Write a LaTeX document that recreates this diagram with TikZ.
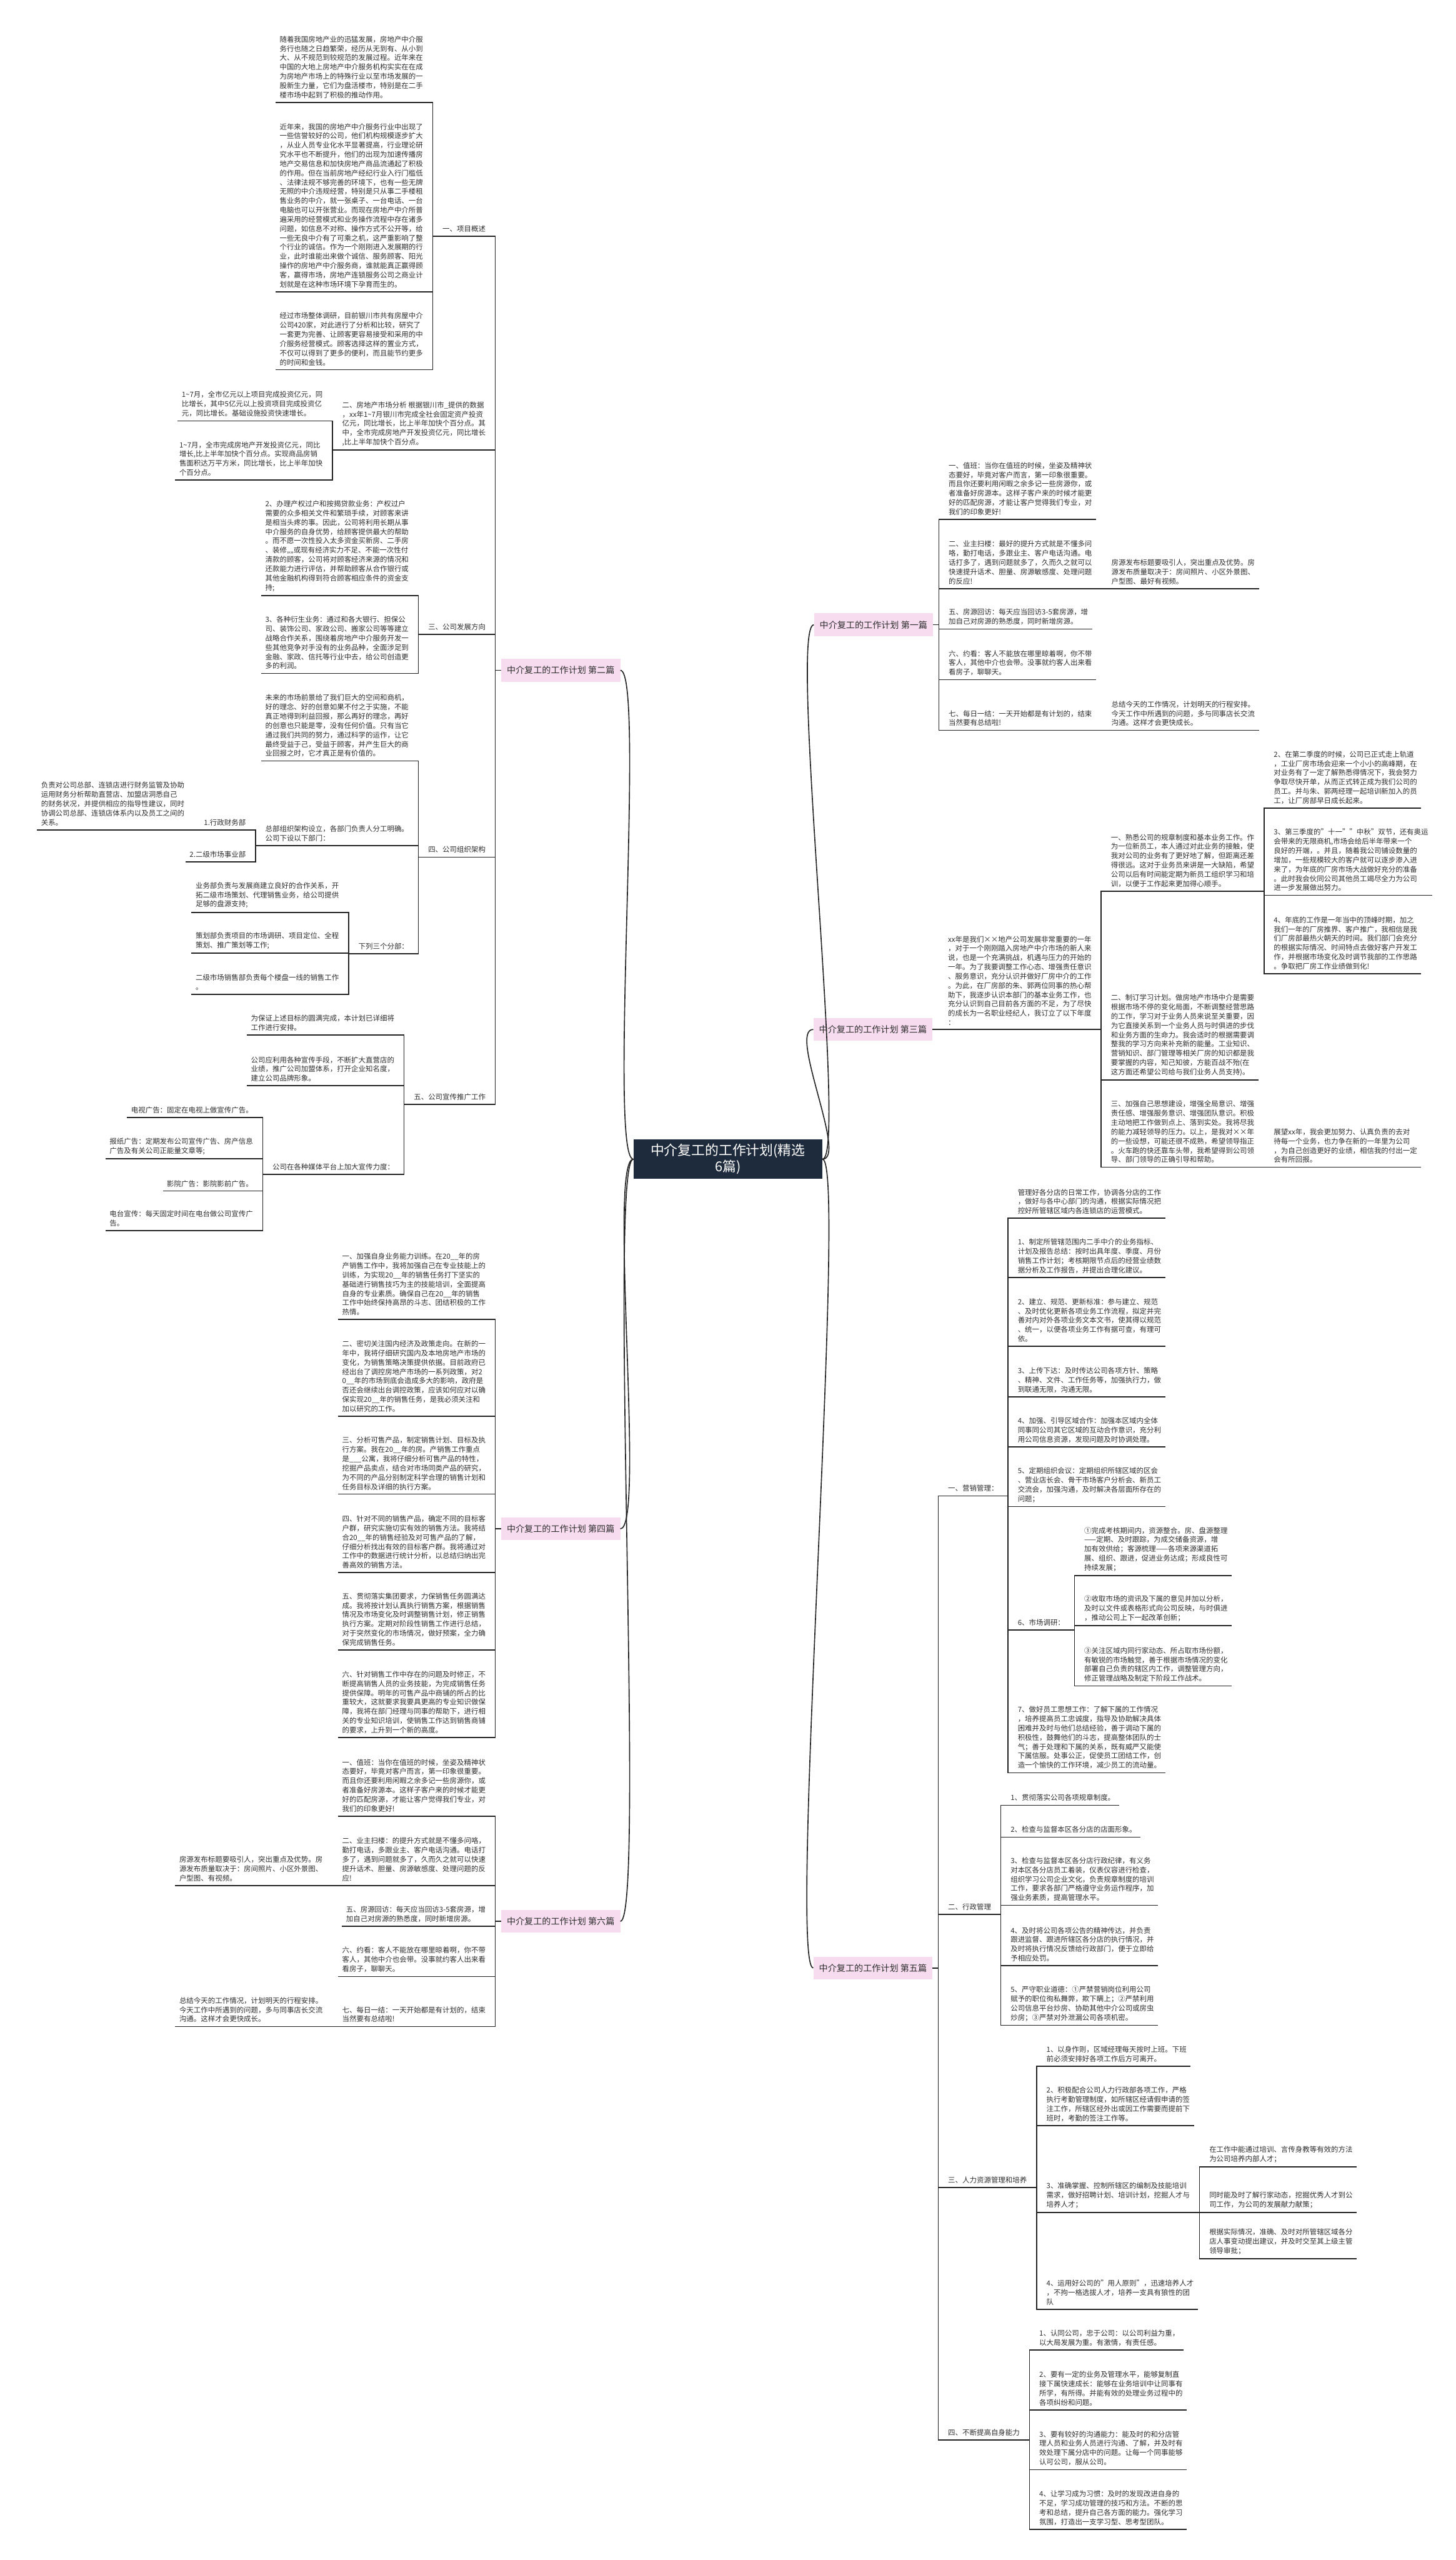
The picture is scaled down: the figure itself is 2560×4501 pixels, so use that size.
\documentclass[tikz,border=0pt]{standalone}
\usepackage{fontspec}
\setmainfont{Noto Sans CJK SC}
\usetikzlibrary{calc}
\definecolor{linec}{HTML}{222222}
\definecolor{txtc}{HTML}{2E2E2E}
\definecolor{pinkc}{HTML}{F7DCF0}
\definecolor{navy}{HTML}{1E2B3C}
\newcommand\conL[3]{\draw[ln] (#1.south west) -- (#1.south east) -- (#3 |- #1.south east) |- (#2.south west);}
\newcommand\conPL[3]{\draw[ln] (#1.south west) -- (#1.south east) -- (#3 |- #1.south east) |- (#2.west);}
\newcommand\conR[3]{\draw[ln] (#1.south east) -- (#1.south west) -- (#3 |- #1.south west) |- (#2.south east);}
\newcommand\conPR[3]{\draw[ln] (#1.south east) -- (#1.south west) -- (#3 |- #1.south west) |- (#2.east);}
\begin{document}
\begin{tikzpicture}[x=1pt,y=-1pt,
  tn/.style={font=\fontsize{12.6}{16.3}\selectfont, align=left, inner xsep=7pt, inner ysep=7pt, text=txtc},
  lnode/.style={tn, anchor=south east, xshift=-10pt},
  rnode/.style={tn, anchor=south west, xshift=10pt},
  ln/.style={line width=1.8pt, draw=linec},
  pk/.style={fill=pinkc, font=\fontsize{15.5}{18}\selectfont, inner xsep=10pt, inner ysep=0pt, minimum height=40pt, text=txtc},
  cnode/.style={fill=navy, text=white, font=\fontsize{24}{29}\selectfont, align=center, inner xsep=30pt, inner ysep=6pt, minimum height=69pt}
]
\useasboundingbox (0,0) rectangle (2560,4501);
\fill[white] (0,0) rectangle (2560,4501);

% center and first level
\node[cnode] (c) at (1280,2038) {中介复工的工作计划(精选\\6篇)};
\node[pk, anchor=east] (P1) at (1641,1098.5) {中介复工的工作计划 第一篇};
\node[pk, anchor=west] (P2) at (881,1178.5) {中介复工的工作计划 第二篇};
\node[pk, anchor=east] (P3) at (1640,1810) {中介复工的工作计划 第三篇};
\node[pk, anchor=west] (P4) at (881,2688) {中介复工的工作计划 第四篇};
\node[pk, anchor=east] (P5) at (1640,3460) {中介复工的工作计划 第五篇};
\node[pk, anchor=west] (P6) at (881,3378) {中介复工的工作计划 第六篇};
\coordinate (vP1) at ([xshift=10pt]P1.east);
\coordinate (vP3) at ([xshift=10pt]P3.east);
\coordinate (vP5) at ([xshift=10pt]P5.east);
\coordinate (vP2) at ([xshift=-10pt]P2.west);
\coordinate (vP4) at ([xshift=-10pt]P4.west);
\coordinate (vP6) at ([xshift=-10pt]P6.west);

\foreach \p in {P2,P4,P6} \draw[ln] (c.west) .. controls +(-45,0) and +(45,0) .. (\p.east);
\foreach \p in {P1,P3,P5} \draw[ln] (c.east) .. controls +(45,0) and +(-45,0) .. (\p.west);

% ===== 第二篇 =====
\node[lnode] (n2a) at (vP2 |- 0,415.5) {一、项目概述};
\coordinate (v2a) at ([xshift=-10pt]n2a.south west);
\node[lnode] (A1) at (v2a |- 0,180) {随着我国房地产业的迅猛发展，房地产中介服\\务行也随之日趋繁荣，经历从无到有、从小到\\大、从不规范到较规范的发展过程。近年来在\\中国的大地上房地产中介服务机构实实在在成\\为房地产市场上的特殊行业以至市场发展的一\\股新生力量，它们为盘活楼市，特别是在二手\\楼市场中起到了积极的推动作用。};
\node[lnode] (A2) at (v2a |- 0,513) {近年来，我国的房地产中介服务行业中出现了\\一些信誉较好的公司，他们机构规模逐步扩大\\，从业人员专业化水平显著提高，行业理论研\\究水平也不断提升，他们的出现为加速传播房\\地产交易信息和加快房地产商品流通起了积极\\的作用。但在当前房地产经纪行业入行门槛低\\、法律法规不够完善的环境下，也有一些无牌\\无照的中介违规经营，特别是只从事二手楼租\\售业务的中介，就一张桌子、一台电话、一台\\电脑也可以开张营业。而现在房地产中介所普\\遍采用的经营模式和业务操作流程中存在诸多\\问题，如信息不对称、操作方式不公开等，给\\一些无良中介有了可乘之机，这严重影响了整\\个行业的诚信。作为一个刚刚进入发展期的行\\业，此时谁能出来做个诚信、服务顾客、阳光\\操作的房地产中介服务商，谁就能真正赢得顾\\客，赢得市场，房地产连锁服务公司之商业计\\划就是在这种市场环境下孕育而生的。};
\node[lnode] (A3) at (v2a |- 0,650) {经过市场整体调研，目前银川市共有房屋中介\\公司420家，对此进行了分析和比较，研究了\\一套更为完善、让顾客更容易接受和采用的中\\介服务经营模式。顾客选择这样的置业方式，\\不仅可以得到了更多的便利，而且能节约更多\\的时间和金钱。};
\node[lnode] (n2b) at (vP2 |- 0,791.5) {二、房地产市场分析 根据银川市\_提供的数据\\，xx年1\textasciitilde7月银川市完成全社会固定资产投资\\亿元，同比增长，比上半年加快个百分点。其\\中，全市完成房地产开发投资亿元，同比增长\\,比上半年加快个百分点。};
\coordinate (v2b) at ([xshift=-10pt]n2b.south west);
\node[lnode] (B1) at (v2b |- 0,740) {1\textasciitilde7月，全市亿元以上项目完成投资亿元，同\\比增长，其中5亿元以上投资项目完成投资亿\\元，同比增长。基础设施投资快速增长。};
\node[lnode] (B2) at (v2b |- 0,844) {1\textasciitilde7月，全市完成房地产开发投资亿元，同比\\增长,比上半年加快个百分点。实现商品房销\\售面积达万平方米，同比增长，比上半年加快\\个百分点。};
\node[lnode] (n2c) at (vP2 |- 0,1115) {三、公司发展方向};
\coordinate (v2c) at ([xshift=-10pt]n2c.south west);
\node[lnode] (C1) at (v2c |- 0,1047) {2、办理产权过户和按揭贷款业务：产权过户\\需要的众多相关文件和繁琐手续，对顾客来讲\\是相当头疼的事。因此，公司将利用长期从事\\中介服务的自身优势，给顾客提供最大的帮助\\。而不愿一次性投入太多资金买新房、二手房\\、装修„„或现有经济实力不足、不能一次性付\\清款的顾客，公司将对顾客经济来源的情况和\\还款能力进行评估，并帮助顾客从合作银行或\\其他金融机构得到符合顾客相应条件的资金支\\持;};
\node[lnode] (C2) at (v2c |- 0,1184) {3、各种衍生业务：通过和各大银行、担保公\\司、装饰公司、家政公司、搬家公司等等建立\\战略合作关系，围绕着房地产中介服务开发一\\些其他竞争对手没有的业务品种，全面涉足到\\金融、家政、信托等行业中去，给公司创造更\\多的利润。};
\node[lnode] (n2d) at (vP2 |- 0,1507) {四、公司组织架构};
\coordinate (v2d) at ([xshift=-10pt]n2d.south west);
\node[lnode] (D1) at (v2d |- 0,1338) {未来的市场前景给了我们巨大的空间和商机，\\好的理念、好的创意如果不付之于实施，不能\\真正地得到利益回报，那么再好的理念，再好\\的创意也只能是零，没有任何价值。只有当它\\通过我们共同的努力，通过科学的运作，让它\\最终受益于己，受益于顾客，并产生巨大的商\\业回报之时，它才真正是有价值的。};
\node[lnode] (D2) at (v2d |- 0,1487) {总部组织架构设立，各部门负责人分工明确。\\公司下设以下部门：};
\coordinate (vD2) at ([xshift=-10pt]D2.south west);
\node[lnode] (D2a) at (vD2 |- 0,1459) {1.行政财务部};
\coordinate (vD2a) at ([xshift=-10pt]D2a.south west);
\node[lnode] (D2a1) at (vD2a |- 0,1459) {负责对公司总部、连锁店进行财务监管及协助\\运用财务分析帮助直营店、加盟店洞悉自己\\的财务状况，并提供相应的指导性建议，同时\\协调公司总部、连锁店体系内以及员工之间的\\关系。};
\node[lnode] (D2b) at (vD2 |- 0,1515) {2.二级市场事业部};
\node[lnode] (D3) at (v2d |- 0,1677) {下列三个分部：};
\coordinate (vD3) at ([xshift=-10pt]D3.south west);
\node[lnode] (D3a) at (vD3 |- 0,1604) {业务部负责与发展商建立良好的合作关系，开\\拓二级市场策划、代理销售业务，给公司提供\\足够的盘源支持;};
\node[lnode] (D3b) at (vD3 |- 0,1676) {策划部负责项目的市场调研、项目定位、全程\\策划、推广策划等工作;};
\node[lnode] (D3c) at (vD3 |- 0,1748) {二级市场销售部负责每个楼盘一线的销售工作\\。};
\node[lnode] (n2e) at (vP2 |- 0,1942) {五、公司宣传推广工作};
\coordinate (v2e) at ([xshift=-10pt]n2e.south west);
\node[lnode] (E1) at (v2e |- 0,1820) {为保证上述目标的圆满完成，本计划已详细将\\工作进行安排。};
\node[lnode] (E2) at (v2e |- 0,1909) {公司应利用各种宣传手段，不断扩大直营店的\\业绩，推广公司加盟体系，打开企业知名度，\\建立公司品牌形象。};
\node[lnode] (E3) at (v2e |- 0,2065) {公司在各种媒体平台上加大宣传力度：};
\coordinate (vE3) at ([xshift=-10pt]E3.south west);
\node[lnode] (E3a) at (vE3 |- 0,1965) {电视广告：固定在电视上做宣传广告。};
\node[lnode] (E3b) at (vE3 |- 0,2037) {报纸广告：定期发布公司宣传广告、房产信息\\广告及有关公司正能量文章等;};
\node[lnode] (E3c) at (vE3 |- 0,2094) {影院广告：影院影前广告。};
\node[lnode] (E3d) at (vE3 |- 0,2164) {电台宣传：每天固定时间在电台做公司宣传广\\告。};

\foreach \n in {n2a,n2b,n2c,n2d,n2e} {\conPL{\n}{P2}{vP2}}
\foreach \n in {A1,A2,A3} {\conL{\n}{n2a}{v2a}}
\foreach \n in {B1,B2} {\conL{\n}{n2b}{v2b}}
\foreach \n in {C1,C2} {\conL{\n}{n2c}{v2c}}
\foreach \n in {D1,D2,D3} {\conL{\n}{n2d}{v2d}}
\foreach \n in {D2a,D2b} {\conL{\n}{D2}{vD2}}
\conL{D2a1}{D2a}{vD2a}
\foreach \n in {D3a,D3b,D3c} {\conL{\n}{D3}{vD3}}
\foreach \n in {E1,E2,E3} {\conL{\n}{n2e}{v2e}}
\foreach \n in {E3a,E3b,E3c,E3d} {\conL{\n}{E3}{vE3}}

% ===== 第四篇 =====
\node[lnode] (H1) at (vP4 |- 0,2320) {一、加强自身业务能力训练。在20\_\_年的房\\产销售工作中，我将加强自己在专业技能上的\\训练，为实现20\_\_年的销售任务打下坚实的\\基础进行销售技巧为主的技能培训，全面提高\\自身的专业素质。确保自己在20\_\_年的销售\\工作中始终保持高昂的斗志、团结积极的工作\\热情。};
\node[lnode] (H2) at (vP4 |- 0,2490) {二、密切关注国内经济及政策走向。在新的一\\年中，我将仔细研究国内及本地房地产市场的\\变化，为销售策略决策提供依据。目前政府已\\经出台了调控房地产市场的一系列政策，对2\\0\_\_年的市场到底会造成多大的影响，政府是\\否还会继续出台调控政策，应该如何应对以确\\保实现20\_\_年的销售任务，是我必须关注和\\加以研究的工作。};
\node[lnode] (H3) at (vP4 |- 0,2627) {三、分析可售产品，制定销售计划、目标及执\\行方案。我在20\_\_年的房。产销售工作重点\\是\_\_\_公寓，我将仔细分析可售产品的特性，\\挖掘产品卖点，结合对市场同类产品的研究，\\为不同的产品分别制定科学合理的销售计划和\\任务目标及详细的执行方案。};
\node[lnode] (H4) at (vP4 |- 0,2765) {四、针对不同的销售产品，确定不同的目标客\\户群，研究实施切实有效的销售方法。我将结\\合20\_\_年的销售经验及对可售产品的了解，\\仔细分析找出有效的目标客户群。我将通过对\\工作中的数据进行统计分析，以总结归纳出完\\善高效的销售方法。};
\node[lnode] (H5) at (vP4 |- 0,2901) {五、贯彻落实集团要求，力保销售任务圆满达\\成。我将按计划认真执行销售方案，根据销售\\情况及市场变化及时调整销售计划，修正销售\\执行方案。定期对阶段性销售工作进行总结，\\对于突然变化的市场情况，做好预案，全力确\\保完成销售任务。};
\node[lnode] (H6) at (vP4 |- 0,3055) {六、针对销售工作中存在的问题及时修正，不\\断提高销售人员的业务技能，为完成销售任务\\提供保障。明年的可售产品中商铺的所占的比\\重较大，这就要求我要具更高的专业知识做保\\障，我将在部门经理与同事的帮助下，进行相\\关的专业知识培训，使销售工作达到销售商铺\\的要求，上升到一个新的高度。};
\foreach \n in {H1,H2,H3,H4,H5,H6} {\conPL{\n}{P4}{vP4}}

% ===== 第六篇 =====
\node[lnode] (K1) at (vP6 |- 0,3193) {一、值班：当你在值班的时候，坐姿及精神状\\态要好，毕竟对客户而言，第一印象很重要。\\而且你还要利用闲暇之余多记一些房源你，或\\者准备好房源本。这样子客户来的时候才能更\\好的匹配房源，才能让客户觉得我们专业，对\\我们的印象更好!};
\node[lnode] (K2) at (vP6 |- 0,3315) {二、业主扫楼：的提升方式就是不懂多问咯，\\勤打电话，多跟业主、客户电话沟通。电话打\\多了，遇到问题就多了，久而久之就可以快速\\提升话术、胆量、房源敏感度、处理问题的反\\应!};
\coordinate (vK2) at ([xshift=-10pt]K2.south west);
\node[lnode] (K2a) at (vK2 |- 0,3315) {房源发布标题要吸引人，突出重点及优势。房\\源发布质量取决于：房间照片、小区外景图、\\户型图、有视频。};
\node[lnode] (K3) at (vP6 |- 0,3387) {五、房源回访：每天应当回访3-5套房源，增\\加自己对房源的熟悉度，同时新增房源。};
\node[lnode] (K4) at (vP6 |- 0,3475) {六、约看：客人不能放在哪里晾着啊，你不带\\客人，其他中介也会带。没事就约客人出来看\\看房子，聊聊天。};
\node[lnode] (K5) at (vP6 |- 0,3563) {七、每日一结：一天开始都是有计划的，结束\\当然要有总结啦!};
\coordinate (vK5) at ([xshift=-10pt]K5.south west);
\node[lnode] (K5a) at (vK5 |- 0,3563) {总结今天的工作情况，计划明天的行程安排。\\今天工作中所遇到的问题，多与同事店长交流\\沟通。这样才会更快成长。};
\foreach \n in {K1,K2,K3,K4,K5} {\conPL{\n}{P6}{vP6}}
\conL{K2a}{K2}{vK2}
\conL{K5a}{K5}{vK5}

% ===== 第一篇 =====
\node[rnode] (F1) at (vP1 |- 0,913) {一、值班：当你在值班的时候，坐姿及精神状\\态要好，毕竟对客户而言，第一印象很重要。\\而且你还要利用闲暇之余多记一些房源你，或\\者准备好房源本。这样子客户来的时候才能更\\好的匹配房源，才能让客户觉得我们专业，对\\我们的印象更好!};
\node[rnode] (F2) at (vP1 |- 0,1035) {二、业主扫楼：最好的提升方式就是不懂多问\\咯，勤打电话，多跟业主、客户电话沟通。电\\话打多了，遇到问题就多了，久而久之就可以\\快速提升话术、胆量、房源敏感度、处理问题\\的反应!};
\coordinate (vF2) at ([xshift=10pt]F2.south east);
\node[rnode] (F2a) at (vF2 |- 0,1035) {房源发布标题要吸引人，突出重点及优势。房\\源发布质量取决于：房间照片、小区外景图、\\户型图、最好有视频。};
\node[rnode] (F3) at (vP1 |- 0,1106) {五、房源回访：每天应当回访3-5套房源，增\\加自己对房源的熟悉度，同时新增房源。};
\node[rnode] (F4) at (vP1 |- 0,1195) {六、约看：客人不能放在哪里晾着啊，你不带\\客人，其他中介也会带。没事就约客人出来看\\看房子，聊聊天。};
\node[rnode] (F5) at (vP1 |- 0,1284) {七、每日一结：一天开始都是有计划的，结束\\当然要有总结啦!};
\coordinate (vF5) at ([xshift=10pt]F5.south east);
\node[rnode] (F5a) at (vF5 |- 0,1284) {总结今天的工作情况，计划明天的行程安排。\\今天工作中所遇到的问题，多与同事店长交流\\沟通。这样才会更快成长。};
\foreach \n in {F1,F2,F3,F4,F5} {\conPR{\n}{P1}{vP1}}
\conR{F2a}{F2}{vF2}
\conR{F5a}{F5}{vF5}

% ===== 第三篇 =====
\node[rnode] (Q0) at (vP3 |- 0,1810) {xx年是我们××地产公司发展非常重要的一年\\，对于一个刚刚踏入房地产中介市场的新人来\\说，也是一个充满挑战，机遇与压力的开始的\\一年。为了我要调整工作心态、增强责任意识\\、服务意识，充分认识并做好厂房中介的工作\\。为此，在厂房部的朱、郭两位同事的热心帮\\助下，我逐步认识本部门的基本业务工作，也\\充分认识到自己目前各方面的不足，为了尽快\\的成长为一名职业经纪人，我订立了以下年度\\：};
\coordinate (vQ0) at ([xshift=10pt]Q0.south east);
\node[rnode] (Q1) at (vQ0 |- 0,1567) {一、熟悉公司的规章制度和基本业务工作。作\\为一位新员工，本人通过对此业务的接触，使\\我对公司的业务有了更好地了解，但距离还差\\得很远。这对于业务员来讲是一大缺陷，希望\\公司以后有时间能定期为新员工组织学习和培\\训，以便于工作起来更加得心顺手。};
\coordinate (vQ1) at ([xshift=10pt]Q1.south east);
\node[rnode] (Q1a) at (vQ1 |- 0,1421) {2、在第二季度的时候，公司已正式走上轨道\\，工业厂房市场会迎来一个小小的高峰期，在\\对业务有了一定了解熟悉得情况下，我会努力\\争取尽快开单，从而正式转正成为我们公司的\\员工。并与朱、郭两经理一起培训新加入的员\\工，让厂房部早日成长起来。};
\node[rnode] (Q1b) at (vQ1 |- 0,1574) {3、第三季度的"十一""中秋"双节，还有奥运\\会带来的无限商机,市场会给后半年带来一个\\良好的开端，。并且，随着我公司铺设数量的\\增加，一些规模较大的客户就可以逐步渗入进\\来了，为年底的厂房市场大战做好充分的准备\\。此时我会伙同公司其他员工竭尽全力为公司\\进一步发展做出努力。};
\node[rnode] (Q1c) at (vQ1 |- 0,1712) {4、年底的工作是一年当中的顶峰时期，加之\\我们一年的厂房推界、客户推广，我相信是我\\们厂房部最热火朝天的时间。我们部门会充分\\的根据实际情况、时间特点去做好客户开发工\\作，并根据市场变化及时调节我部的工作思路\\。争取把厂房工作业绩做到化!};
\node[rnode] (Q2) at (vQ0 |- 0,1899) {二、制订学习计划。做房地产市场中介是需要\\根据市场不停的变化局面，不断调整经营思路\\的工作，学习对于业务人员来说至关重要，因\\为它直接关系到一个业务人员与时俱进的步伐\\和业务方面的生命力。我会适时的根据需要调\\整我的学习方向来补充新的能量。工业知识、\\营销知识、部门管理等相关厂房的知识都是我\\要掌握的内容，知己知彼，方能百战不殆(在\\这方面还希望公司给与我们业务人员支持)。};
\node[rnode] (Q3) at (vQ0 |- 0,2052) {三、加强自己思想建设，增强全局意识、增强\\责任感、增强服务意识、增强团队意识。积极\\主动地把工作做到点上、落到实处。我将尽我\\的能力减轻领导的压力。以上，是我对××年\\的一些设想，可能还很不成熟，希望领导指正\\。火车跑的快还靠车头带，我希望得到公司领\\导、部门领导的正确引导和帮助。};
\coordinate (vQ3) at ([xshift=10pt]Q3.south east);
\node[rnode] (Q3a) at (vQ3 |- 0,2052) {展望xx年，我会更加努力、认真负责的去对\\待每一个业务，也力争在新的一年里为公司\\，为自己创造更好的业绩，相信我的付出一定\\会有所回报。};
\conPR{Q0}{P3}{vP3}
\foreach \n in {Q1,Q2,Q3} {\conR{\n}{Q0}{vQ0}}
\foreach \n in {Q1a,Q1b,Q1c} {\conR{\n}{Q1}{vQ1}}
\conR{Q3a}{Q3}{vQ3}

% ===== 第五篇 =====
\node[rnode] (G1) at (vP5 |- 0,2630) {一、营销管理：};
\coordinate (vG1) at ([xshift=10pt]G1.south east);
\node[rnode] (G1a) at (vG1 |- 0,2142) {管理好各分店的日常工作，协调各分店的工作\\，做好与各中心部门的沟通，根据实际情况把\\控好所管辖区域内各连锁店的运营模式。};
\node[rnode] (G1b) at (vG1 |- 0,2246) {1、制定所管辖范围内二手中介的业务指标、\\计划及报告总结：按时出具年度、季度、月份\\销售工作计划；考核期限节点后的经营业绩数\\据分析及工作报告，并提出合理化建议。};
\node[rnode] (G1c) at (vG1 |- 0,2367) {2、建立、规范、更新标准：参与建立、规范\\、及时优化更新各项业务工作流程，拟定并完\\善对内对外各项业务文本文书，使其得以规范\\、统一，以便各项业务工作有据可查，有理可\\依。};
\node[rnode] (G1d) at (vG1 |- 0,2456) {3、上传下达：及时传达公司各项方针、策略\\、精神、文件、工作任务等，加强执行力，做\\到联通无限，沟通无限。};
\node[rnode] (G1e) at (vG1 |- 0,2544) {4、加强、引导区域合作：加强本区域内全体\\同事同公司其它区域的互动合作意识，充分利\\用公司信息资源，发现问题及时协调处理。};
\node[rnode] (G1f) at (vG1 |- 0,2649) {5、定期组织会议：定期组织所辖区域的区会\\、营业店长会、骨干市场客户分析会、新员工\\交流会，加强沟通，及时解决各层面所存在的\\问题；};
\node[rnode] (G1g) at (vG1 |- 0,2866) {6、市场调研：};
\coordinate (vG1g) at ([xshift=10pt]G1g.south east);
\node[rnode] (G1g1) at (vG1g |- 0,2770) {①完成考核期间内，资源整合。房、盘源整理\\——定期、及时跟踪，为成交储备资源，增\\加有效供给；客源梳理——各项来源渠道拓\\展、组织、跟进，促进业务达成；形成良性可\\持续发展；};
\node[rnode] (G1g2) at (vG1g |- 0,2858) {②收取市场的资讯及下属的意见并加以分析，\\及时以文件或表格形式向公司反映，与时俱进\\，推动公司上下一起改革创新；};
\node[rnode] (G1g3) at (vG1g |- 0,2964) {③关注区域内同行家动态、所占取市场份额，\\有敏锐的市场触觉，善于根据市场情况的变化\\部署自己负责的辖区内工作，调整管理方向，\\修正管理战略及制定下阶段工作战术。};
\node[rnode] (G1h) at (vG1 |- 0,3117) {7、做好员工思想工作：了解下属的工作情况\\，培养提高员工忠诚度，指导及协助解决具体\\困难并及时与他们总结经验，善于调动下属的\\积极性，鼓舞他们的斗志，提高整体团队的士\\气；善于处理和下属的关系，既有威严又能使\\下属信服。处事公正，促使员工团结工作，创\\造一个愉快的工作环境，减少员工的流动量。};
\node[rnode] (G2) at (vP5 |- 0,3366) {二、行政管理};
\coordinate (vG2) at ([xshift=10pt]G2.south east);
\node[rnode] (G2a) at (vG2 |- 0,3174) {1、贯彻落实公司各项规章制度。};
\node[rnode] (G2b) at (vG2 |- 0,3230) {2、检查与监督本区各分店的店面形象。};
\node[rnode] (G2c) at (vG2 |- 0,3350) {3、检查与监督本区各分店行政纪律，有义务\\对本区各分店员工着装，仪表仪容进行检查，\\组织学习公司企业文化，负责规章制度的培训\\工作，要求各部门严格遵守业务运作程序，加\\强业务素质，提高管理水平。};
\node[rnode] (G2d) at (vG2 |- 0,3456) {4、及时将公司各项公告的精神传达，并负责\\跟进监督、跟进所辖区各分店的执行情况，并\\及时将执行情况反馈给行政部门，便于立即给\\予相应处罚。};
\node[rnode] (G2e) at (vG2 |- 0,3561) {5、严守职业道德：①严禁营销岗位利用公司\\赋予的职位徇私舞弊，欺下瞒上；②严禁利用\\公司信息平台炒房、协助其他中介公司或房虫\\炒房；③严禁对外泄漏公司各项机密。};
\node[rnode] (G3) at (vP5 |- 0,3846) {三、人力资源管理和培养};
\coordinate (vG3) at ([xshift=10pt]G3.south east);
\node[rnode] (G3a) at (vG3 |- 0,3633) {1、以身作则，区域经理每天按时上班。下班\\前必须安排好各项工作后方可离开。};
\node[rnode] (G3b) at (vG3 |- 0,3737) {2、积极配合公司人力行政部各项工作，严格\\执行考勤管理制度，如所辖区经请假申请的签\\注工作，所辖区经外出或因工作需要而提前下\\班时，考勤的签注工作等。};
\node[rnode] (G3c) at (vG3 |- 0,3890) {3、准确掌握、控制所辖区的编制及技能培训\\需求，做好招聘计划、培训计划，挖掘人才与\\培养人才；};
\coordinate (vG3c) at ([xshift=10pt]G3c.south east);
\node[rnode] (G3c1) at (vG3c |- 0,3810) {在工作中能通过培训、言传身教等有效的方法\\为公司培养内部人才；};
\node[rnode] (G3c2) at (vG3c |- 0,3890) {同时能及时了解行家动态，挖掘优秀人才到公\\司工作，为公司的发展献力献策；};
\node[rnode] (G3c3) at (vG3c |- 0,3971) {根据实际情况，准确、及时对所管辖区域各分\\店人事变动提出建议，并及时交至其上级主管\\领导审批；};
\node[rnode] (G3d) at (vG3 |- 0,4060) {4、运用好公司的"用人原则"，迅速培养人才\\，不拘一格选拔人才，培养一支具有狼性的团\\队};
\node[rnode] (G4) at (vP5 |- 0,4290) {四、不断提高自身能力};
\coordinate (vG4) at ([xshift=10pt]G4.south east);
\node[rnode] (G4a) at (vG4 |- 0,4132) {1、认同公司，忠于公司：以公司利益为重，\\以大局发展为重。有激情，有责任感。};
\node[rnode] (G4b) at (vG4 |- 0,4237) {2、要有一定的业务及管理水平，能够复制直\\接下属快速成长：能够在业务培训中让同事有\\所学，有所得。并能有效的处理业务过程中的\\各项纠纷和问题。};
\node[rnode] (G4c) at (vG4 |- 0,4342) {3、要有较好的沟通能力：能及时的和分店管\\理人员和业务人员进行沟通、了解，并及时有\\效处理下属分店中的问题。让每一个同事能够\\认可公司，服从公司。};
\node[rnode] (G4d) at (vG4 |- 0,4447) {4、让学习成为习惯：及时的发现改进自身的\\不足，学习成功管理的技巧和方法。不断的思\\考和总结，提升自己各方面的能力。强化学习\\氛围，打造出一支学习型、思考型团队。};
\foreach \n in {G1,G2,G3,G4} {\conPR{\n}{P5}{vP5}}
\foreach \n in {G1a,G1b,G1c,G1d,G1e,G1f,G1g,G1h} {\conR{\n}{G1}{vG1}}
\foreach \n in {G1g1,G1g2,G1g3} {\conR{\n}{G1g}{vG1g}}
\foreach \n in {G2a,G2b,G2c,G2d,G2e} {\conR{\n}{G2}{vG2}}
\foreach \n in {G3a,G3b,G3c,G3d} {\conR{\n}{G3}{vG3}}
\foreach \n in {G3c1,G3c2,G3c3} {\conR{\n}{G3c}{vG3c}}
\foreach \n in {G4a,G4b,G4c,G4d} {\conR{\n}{G4}{vG4}}
\end{tikzpicture}
\end{document}
